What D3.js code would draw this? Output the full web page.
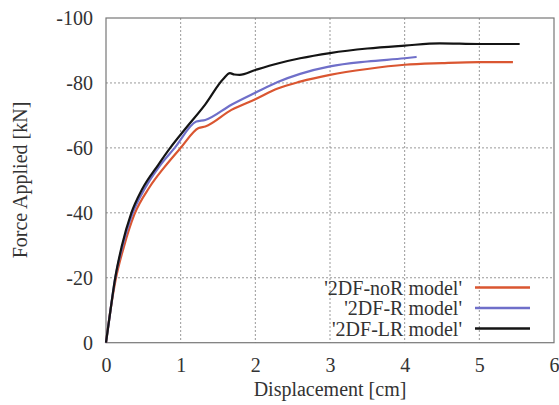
<!DOCTYPE html>
<html>
<head>
<meta charset="utf-8">
<script src="https://cdn.jsdelivr.net/npm/d3@7"></script>
<style>
  body { margin: 0; background: #fff; }
  svg text { font-family: "Liberation Serif", "Times New Roman", "DejaVu Serif", serif; fill: #333; }
</style>
</head>
<body>
<svg id="chart" width="559" height="405"></svg>
<script>
// tick values
const xTicks = [0, 1, 2, 3, 4, 5, 6];
const yTicks = [0, -20, -40, -60, -80, -100];

// curves: [displacement cm, force kN]
const noR = [[0,0],[0.06,-10],[0.13,-19.5],[0.24,-29.6],[0.38,-39.5],[0.58,-47.8],[0.78,-54],[1.0,-60],
  [1.24,-66.1],[1.33,-66.6],[1.68,-71.7],[2.0,-75],[2.3,-78.3],[2.6,-80.4],[3.0,-82.5],[3.5,-84.3],
  [4.0,-85.6],[4.5,-86.1],[5.0,-86.4],[5.45,-86.4]];
const R = [[0,0],[0.06,-10],[0.12,-19.5],[0.22,-29.6],[0.35,-39.5],[0.52,-47.5],[0.72,-54.5],[0.92,-60],
  [1.21,-68.1],[1.33,-68.6],[1.68,-73.3],[2.0,-77],[2.3,-80.3],[2.6,-82.8],[3.0,-85.1],
  [3.5,-86.6],[4.0,-87.6],[4.16,-88.0]];
const LR = [[0,0],[0.06,-10],[0.12,-19.5],[0.21,-29.6],[0.34,-40],[0.48,-47.1],[0.7,-54.8],[0.86,-60],
  [1.06,-65.8],[1.33,-73.4],[1.57,-81.2],[1.66,-83.0],[1.72,-82.6],[1.79,-82.5],[2.0,-84],[2.3,-86],
  [2.6,-87.6],[3.0,-89.2],[3.5,-90.6],[4.0,-91.5],[4.47,-92.2],[5.0,-92.0],[5.54,-92.0]];

const seriesNames = ["'2DF-noR model'", "'2DF-R model'", "'2DF-LR model'"];
const seriesColors = ["#da5631", "#6f6fc9", "#141414"];
const seriesData = [noR, R, LR];

const svg = d3.select("#chart");
const pLeft = 106, pRight = 554, pTop = 18, pBottom = 342.7;

const x = d3.scaleLinear().domain([0, 6]).range([pLeft, pRight]);
const y = d3.scaleLinear().domain([0, -100]).range([pBottom, pTop]);

// grid
const grid = svg.append("g").attr("stroke", "#999").attr("stroke-dasharray", "2,2").attr("stroke-width", 1);
grid.selectAll(".gx").data(xTicks.slice(1, -1)).enter().append("line")
  .attr("x1", d => x(d)).attr("x2", d => x(d)).attr("y1", pTop).attr("y2", pBottom);
grid.selectAll(".gy").data(yTicks.slice(1, -1)).enter().append("line")
  .attr("x1", pLeft).attr("x2", pRight).attr("y1", d => y(d)).attr("y2", d => y(d));

// border
svg.append("rect").attr("x", pLeft).attr("y", pTop).attr("width", pRight - pLeft).attr("height", pBottom - pTop)
  .attr("fill", "none").attr("stroke", "#777").attr("stroke-width", 1.2);

// axes
const xAxis = d3.axisBottom(x).tickValues(xTicks).tickSize(0).tickPadding(15).tickFormat(d => String(d));
const yAxis = d3.axisLeft(y).tickValues(yTicks).tickSize(0).tickPadding(13).tickFormat(d => String(d));
const gx = svg.append("g").attr("transform", `translate(0,${pBottom})`).call(xAxis);
const gy = svg.append("g").attr("transform", `translate(${pLeft},0)`).call(yAxis);
[gx, gy].forEach(g => {
  g.attr("font-family", null).attr("font-size", null);
  g.select(".domain").remove();
  g.selectAll("text").style("font-size", "20px");
});

// curves
const line = d3.line().x(d => x(d[0])).y(d => y(d[1])).curve(d3.curveMonotoneX);
svg.selectAll(".curve").data(seriesData).enter().append("path")
  .attr("d", line).attr("fill", "none")
  .attr("stroke", (d, i) => seriesColors[i]).attr("stroke-width", 2.2);

// legend
const leg = svg.selectAll(".leg").data(seriesNames).enter().append("g")
  .attr("transform", (d, i) => `translate(0,${287.5 + i * 20.5})`);
leg.append("text").attr("x", 462).attr("y", 7).attr("text-anchor", "end")
  .style("font-size", "20px").text(d => d);
leg.append("line").attr("x1", 475).attr("x2", 530).attr("y1", 0).attr("y2", 0)
  .attr("stroke", (d, i) => seriesColors[i]).attr("stroke-width", 2.5);

// axis titles
svg.append("text").attr("x", 330).attr("y", 396).attr("text-anchor", "middle")
  .style("font-size", "20px").text("Displacement [cm]");
svg.append("text").attr("transform", "translate(27,180) rotate(-90)").attr("text-anchor", "middle")
  .style("font-size", "20px").text("Force Applied [kN]");
</script>
</body>
</html>
